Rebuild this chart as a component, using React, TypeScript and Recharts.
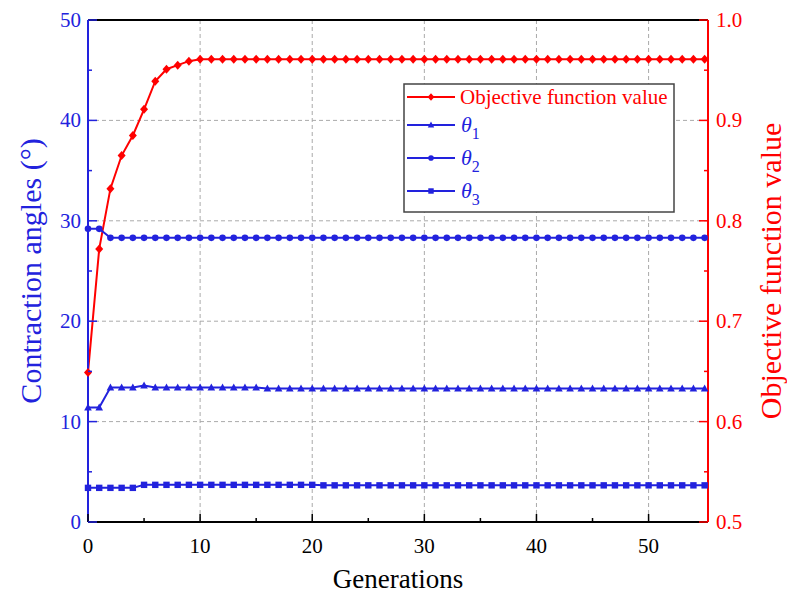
import React from "react";
import { LineChart, Line, XAxis, YAxis, CartesianGrid, Legend, ReferenceLine } from "recharts";

const BLUE = "#2222dd";
const RED = "#ff0000";
const FONT = '"Liberation Serif", "Times New Roman", Times, "DejaVu Serif", serif';
const serif = { fontFamily: FONT };

const generations = [
  0, 1, 2, 3, 4, 5, 6, 7, 8, 9,
  10, 11, 12, 13, 14, 15, 16, 17, 18, 19,
  20, 21, 22, 23, 24, 25, 26, 27, 28, 29,
  30, 31, 32, 33, 34, 35, 36, 37, 38, 39,
  40, 41, 42, 43, 44, 45, 46, 47, 48, 49,
  50, 51, 52, 53, 54, 55,
];

const objective = [
  0.649, 0.772, 0.832, 0.865, 0.885, 0.911, 0.939, 0.951, 0.955, 0.959,
  0.961, 0.961, 0.961, 0.961, 0.961, 0.961, 0.961, 0.961, 0.961, 0.961,
  0.961, 0.961, 0.961, 0.961, 0.961, 0.961, 0.961, 0.961, 0.961, 0.961,
  0.961, 0.961, 0.961, 0.961, 0.961, 0.961, 0.961, 0.961, 0.961, 0.961,
  0.961, 0.961, 0.961, 0.961, 0.961, 0.961, 0.961, 0.961, 0.961, 0.961,
  0.961, 0.961, 0.961, 0.961, 0.961, 0.961,
];

const theta1 = [
  11.4, 11.4, 13.4, 13.4, 13.4, 13.6, 13.4, 13.4, 13.4, 13.4,
  13.4, 13.4, 13.4, 13.4, 13.4, 13.4, 13.3, 13.3, 13.3, 13.3,
  13.3, 13.3, 13.3, 13.3, 13.3, 13.3, 13.3, 13.3, 13.3, 13.3,
  13.3, 13.3, 13.3, 13.3, 13.3, 13.3, 13.3, 13.3, 13.3, 13.3,
  13.3, 13.3, 13.3, 13.3, 13.3, 13.3, 13.3, 13.3, 13.3, 13.3,
  13.3, 13.3, 13.3, 13.3, 13.3, 13.3,
];

const theta2 = [
  29.2, 29.2, 28.3, 28.3, 28.3, 28.3, 28.3, 28.3, 28.3, 28.3,
  28.3, 28.3, 28.3, 28.3, 28.3, 28.3, 28.3, 28.3, 28.3, 28.3,
  28.3, 28.3, 28.3, 28.3, 28.3, 28.3, 28.3, 28.3, 28.3, 28.3,
  28.3, 28.3, 28.3, 28.3, 28.3, 28.3, 28.3, 28.3, 28.3, 28.3,
  28.3, 28.3, 28.3, 28.3, 28.3, 28.3, 28.3, 28.3, 28.3, 28.3,
  28.3, 28.3, 28.3, 28.3, 28.3, 28.3,
];

const theta3 = [
  3.4, 3.4, 3.4, 3.4, 3.4, 3.7, 3.7, 3.7, 3.7, 3.7,
  3.7, 3.7, 3.7, 3.7, 3.7, 3.7, 3.7, 3.7, 3.7, 3.7,
  3.7, 3.65, 3.65, 3.65, 3.65, 3.65, 3.65, 3.65, 3.65, 3.65,
  3.65, 3.65, 3.65, 3.65, 3.65, 3.65, 3.65, 3.65, 3.65, 3.65,
  3.65, 3.65, 3.65, 3.65, 3.65, 3.65, 3.65, 3.65, 3.65, 3.65,
  3.65, 3.65, 3.65, 3.65, 3.65, 3.65,
];

const xTicks = [0, 5, 10, 15, 20, 25, 30, 35, 40, 45, 50];
const leftTicks = [0, 5, 10, 15, 20, 25, 30, 35, 40, 45, 50];
const rightTicks = [0.5, 0.55, 0.6, 0.65, 0.7, 0.75, 0.8, 0.85, 0.9, 0.95, 1.0];
const gridX = [10, 20, 30, 40, 50];
const gridY = [10, 20, 30, 40];

const rows = generations.map((g, i) => ({
  gen: g,
  obj: objective[i],
  t1: theta1[i],
  t2: theta2[i],
  t3: theta3[i],
}));

// marker shapes, s scales them down for the legend
function marker(kind: string, cx: number, cy: number, color: string, key?: any, s = 1) {
  if (kind === "obj")
    return <path key={key} d={`M${cx},${cy - 4.5 * s}L${cx + 4 * s},${cy}L${cx},${cy + 4.5 * s}L${cx - 4 * s},${cy}Z`} fill={color} />;
  if (kind === "t1")
    return <path key={key} d={`M${cx},${cy - 4 * s}L${cx + 3.8 * s},${cy + 3 * s}L${cx - 3.8 * s},${cy + 3 * s}Z`} fill={color} />;
  if (kind === "t2") return <circle key={key} cx={cx} cy={cy} r={3.3 * s} fill={color} />;
  return <rect key={key} x={cx - 3.2 * s} y={cy - 3.2 * s} width={6.4 * s} height={6.4 * s} fill={color} />;
}

const dotFor = (kind: string, color: string) => (p: any) => marker(kind, p.cx, p.cy, color, `${kind}-${p.index}`);

function BottomTick(props: any) {
  const { x, y, payload } = props;
  const major = payload.value % 10 === 0;
  return (
    <g>
      <line x1={x} x2={x} y1={y} y2={y - (major ? 8 : 4)} stroke="#000" strokeWidth={1.5} />
      {major && (
        <text x={x} y={y + 31} textAnchor="middle" fontSize={21} fill="#000" style={serif}>
          {payload.value}
        </text>
      )}
    </g>
  );
}

function LeftTick(props: any) {
  const { x, y, payload } = props;
  const major = payload.value % 10 === 0;
  return (
    <g>
      <line x1={x} x2={x + (major ? 9 : 4)} y1={y} y2={y} stroke={BLUE} strokeWidth={1.5} />
      {major && (
        <text x={x - 7} y={y + 7} textAnchor="end" fontSize={21} fill={BLUE} style={serif}>
          {payload.value}
        </text>
      )}
    </g>
  );
}

function RightTick(props: any) {
  const { x, y, payload } = props;
  const major = Math.round(payload.value * 100) % 10 === 0;
  return (
    <g>
      <line x1={x} x2={x - (major ? 9 : 4)} y1={y} y2={y} stroke={RED} strokeWidth={1.5} />
      {major && (
        <text x={x + 8} y={y + 7} textAnchor="start" fontSize={21} fill={RED} style={serif}>
          {payload.value.toFixed(1)}
        </text>
      )}
    </g>
  );
}

function LeftTitle({ viewBox }: any) {
  const cx = viewBox.x + 30;
  const cy = viewBox.y + viewBox.height / 2;
  return (
    <text x={cx} y={cy} transform={`rotate(-90 ${cx} ${cy})`} textAnchor="middle" dominantBaseline="central"
      fontSize={30} fill={BLUE} style={serif}>
      Contraction angles (°)
    </text>
  );
}

function RightTitle({ viewBox }: any) {
  const cx = viewBox.x + 62;
  const cy = viewBox.y + viewBox.height / 2;
  return (
    <text x={cx} y={cy} transform={`rotate(-90 ${cx} ${cy})`} textAnchor="middle" dominantBaseline="central"
      fontSize={30} fill={RED} style={serif}>
      Objective function value
    </text>
  );
}

function BottomTitle({ viewBox }: any) {
  const cx = viewBox.x + viewBox.width / 2;
  return (
    <text x={cx} y={viewBox.y + 66} textAnchor="middle" fontSize={27} fill="#000" style={serif}>
      Generations
    </text>
  );
}

const legendRowY = [14, 42, 75, 108];

function LegendBox(props: any) {
  const payload = props.payload || [];
  return (
    <svg width={272} height={130} style={{ display: "block" }}>
      <rect x={1} y={1} width={270} height={128} fill="#fff" stroke="#444" strokeWidth={1.5} />
      {payload.map((entry: any, i: number) => {
        const y = legendRowY[i];
        const name = String(entry.value);
        const isTheta = name.startsWith("θ");
        return (
          <g key={name}>
            <line x1={4} x2={52} y1={y} y2={y} stroke={entry.color} strokeWidth={2} />
            {marker(entry.dataKey, 28, y, entry.color, undefined, 0.85)}
            {isTheta ? (
              <text x={58} y={y + 7} fontSize={22} fill={entry.color} style={serif}>
                <tspan fontStyle="italic">θ</tspan>
                <tspan dy={7} fontSize={16}>{name.slice(1)}</tspan>
              </text>
            ) : (
              <text x={57} y={y + 7} fontSize={21} fill={entry.color} style={serif}>
                {name}
              </text>
            )}
          </g>
        );
      })}
    </svg>
  );
}

export default function App() {
  return (
    <div style={{ position: "absolute", left: 0, top: 0, background: "#fff", fontFamily: FONT }}>
      <LineChart width={787} height={597} data={rows} margin={{ top: 20, right: 0, bottom: 0, left: 0 }}>
        <CartesianGrid yAxisId="L" horizontalValues={gridY} verticalValues={gridX}
          stroke="#aaa" strokeDasharray="4 3" />
        <XAxis dataKey="gen" type="number" domain={[0, 55.3]} ticks={xTicks} interval={0}
          height={75} tickSize={0} tickMargin={0} tickLine={false} tick={<BottomTick />}
          axisLine={{ stroke: "#000", strokeWidth: 2 }} label={<BottomTitle />} />
        <YAxis yAxisId="L" orientation="left" domain={[0, 50]} ticks={leftTicks} interval={0}
          width={88} tickSize={0} tickMargin={0} tickLine={false} tick={<LeftTick />}
          axisLine={{ stroke: BLUE, strokeWidth: 2 }} label={<LeftTitle />} />
        <YAxis yAxisId="R" orientation="right" domain={[0.5, 1.0]} ticks={rightTicks} interval={0}
          width={79} tickSize={0} tickMargin={0} tickLine={false} tick={<RightTick />}
          axisLine={{ stroke: RED, strokeWidth: 2 }} label={<RightTitle />} />
        <ReferenceLine yAxisId="L" y={50} stroke="#000" strokeWidth={2} />
        <Line yAxisId="R" dataKey="obj" name="Objective function value" stroke={RED} strokeWidth={2}
          dot={dotFor("obj", RED)} activeDot={false} isAnimationActive={false} />
        <Line yAxisId="L" dataKey="t1" name="θ1" stroke={BLUE} strokeWidth={2}
          dot={dotFor("t1", BLUE)} activeDot={false} isAnimationActive={false} />
        <Line yAxisId="L" dataKey="t2" name="θ2" stroke={BLUE} strokeWidth={2}
          dot={dotFor("t2", BLUE)} activeDot={false} isAnimationActive={false} />
        <Line yAxisId="L" dataKey="t3" name="θ3" stroke={BLUE} strokeWidth={2}
          dot={dotFor("t3", BLUE)} activeDot={false} isAnimationActive={false} />
        <Legend layout="vertical" align="center" verticalAlign="middle" content={<LegendBox />}
          wrapperStyle={{ left: 403, top: 83, width: 272, height: 130 }} />
      </LineChart>
    </div>
  );
}
